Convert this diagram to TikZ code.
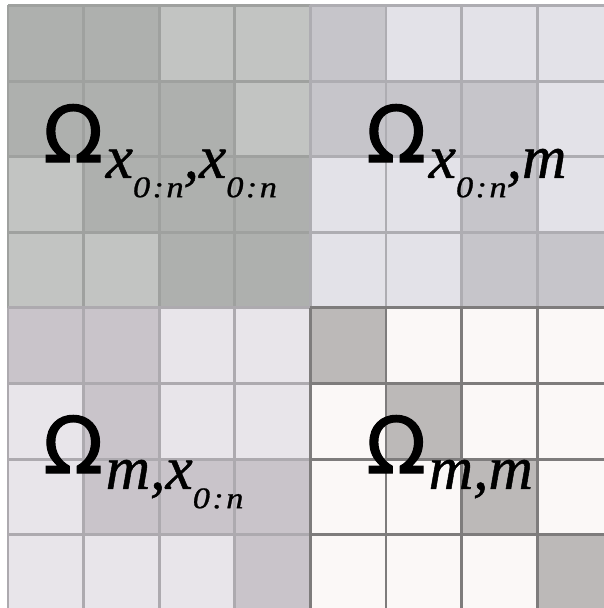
\documentclass[tikz,border=0pt]{standalone}
\usepackage{graphicx}
\usepackage{fontspec}
\setmainfont{Liberation Serif}
\newfontfamily\omfont[FakeBold=1.5]{DejaVu Sans}
\newfontfamily\subfont[FakeBold=0.8]{Liberation Serif}
\usetikzlibrary{positioning}
\definecolor{tlLight}{HTML}{C2C4C2}
\definecolor{tlDark}{HTML}{AEB0AE}
\definecolor{tlLine}{HTML}{9FA19F}
\definecolor{trLight}{HTML}{E3E2E8}
\definecolor{trDark}{HTML}{C6C5CA}
\definecolor{trLine}{HTML}{AEADB2}
\definecolor{blLight}{HTML}{E8E5EA}
\definecolor{blDark}{HTML}{C9C4CA}
\definecolor{blLine}{HTML}{ADAAAF}
\definecolor{brLight}{HTML}{FBF8F7}
\definecolor{brDark}{HTML}{BCB9B8}
\definecolor{brLine}{HTML}{7E7C7C}

\newcommand{\cellsz}{75.6}
% subscript and second-level subscript
\newcommand{\lsub}[1]{\kern1.5pt\raisebox{-9pt}{\fontsize{35}{35}\subfont\itshape #1}}
\newcommand{\lsubsub}[1]{\raisebox{-11pt}{\scalebox{1.15}[1]{\fontsize{17}{17}\subfont\itshape #1}}}
\newcommand{\zn}{\lsubsub{0\kern1.2pt:\kern1.2pt n}}

% one 4x4 block: origin x, origin y, light, dark, line colour, dark cells (row/col)
\newcommand{\quadrant}[6]{%
  \begin{scope}[shift={(#1,#2)}]
    \fill[#3] (0,0) rectangle (4*\cellsz,4*\cellsz);
    \foreach \r/\c in {#6}
      \fill[#4] (\c*\cellsz,\r*\cellsz) rectangle ++(\cellsz,\cellsz);
    \foreach \i in {0,...,4} {
      \draw[gridline,draw=#5] (\i*\cellsz,0) -- (\i*\cellsz,4*\cellsz);
      \draw[gridline,draw=#5] (0,\i*\cellsz) -- (4*\cellsz,\i*\cellsz);
    }
  \end{scope}}

\begin{document}
\begin{tikzpicture}[
    x=0.02cm, y=-0.02cm,
    gridline/.style={line width=1.6pt},
    lab/.style={anchor=base west, inner sep=0pt, font=\fontsize{44.5}{44.5}\selectfont}
  ]
  \useasboundingbox (0,0) rectangle (604,608);
  \fill[white] (0,0) rectangle (604,608);
  \clip (0,0) rectangle (604,608);

  \quadrant{8}{5.5}{tlLight}{tlDark}{tlLine}{0/0,0/1,1/0,1/1,1/2,2/1,2/2,2/3,3/2,3/3}
  \quadrant{310.4}{5.5}{trLight}{trDark}{trLine}{0/0,1/0,1/1,1/2,2/2,3/2,3/3}
  \quadrant{8}{307.9}{blLight}{blDark}{blLine}{0/0,0/1,1/1,2/1,2/2,2/3,3/3}
  \quadrant{310.4}{307.9}{brLight}{brDark}{brLine}{0/0,1/1,2/2,3/3}

  \node[lab] (omXX) at (43,162) {{\omfont Ω}\lsub{x\zn,x\zn}};
  \node[lab] (omXM) at (366,162) {{\omfont Ω}\lsub{x\zn,m}};
  \node[lab] (omMX) at (43,473) {{\omfont Ω}\lsub{m,x\zn}};
  \node[lab] (omMM) at (366,473) {{\omfont Ω}\lsub{m,m}};
\end{tikzpicture}
\end{document}
